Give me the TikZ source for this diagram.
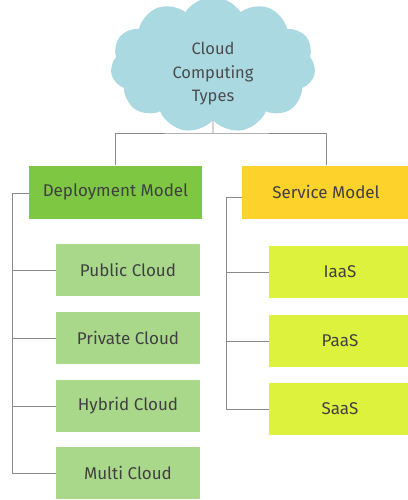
\documentclass[tikz,border=0pt]{standalone}
\usepackage{fontspec}
\setmainfont{Fira Sans}
\usetikzlibrary{shapes.symbols}
\definecolor{cloudblue}{HTML}{AAD9E2}
\definecolor{deplgreen}{HTML}{7DC742}
\definecolor{servgold}{HTML}{FDD22A}
\definecolor{lightgreen}{HTML}{A9D88B}
\definecolor{limegreen}{HTML}{DDF23C}
\definecolor{linegray}{HTML}{8A8A8A}
\begin{document}
\begin{tikzpicture}[x=1pt, y=-1pt, font=\fontsize{17}{20}\selectfont, line join=round,
	box/.style={rectangle, minimum height=52pt, text=black!75},
	link/.style={draw=linegray, line width=0.8pt}]
	\useasboundingbox (0,0) rectangle (407,500);
	\fill[white] (0,0) rectangle (407,500);
	% root
	\node[cloud, cloud puffs=11, cloud puff arc=115, aspect=1.7, fill=cloudblue, minimum width=205pt, minimum height=136pt, inner sep=0pt,
		label={[align=center, text=black!70, yshift=-9pt, font=\fontsize{16.5}{23.5}\selectfont]center:Cloud\\Computing\\Types}] (root) at (213,65) {};
	% models
	\node[box, fill=deplgreen, minimum width=173pt, minimum height=53pt] (deploy) at (115.5,192) {Deployment Model};
	\node[box, fill=servgold, minimum width=168pt, minimum height=53pt] (service) at (326,192) {Service Model};
	% deployment kinds
	\node[box, fill=lightgreen, minimum width=144pt] (public) at (128,270) {Public Cloud};
	\node[box, fill=lightgreen, minimum width=144pt] (private) at (128,338) {Private Cloud};
	\node[box, fill=lightgreen, minimum width=144pt] (hybrid) at (128,406) {Hybrid Cloud};
	\node[box, fill=lightgreen, minimum width=144pt] (multi) at (128,473) {Multi Cloud};
	% service kinds
	\node[box, fill=limegreen, minimum width=142pt] (iaas) at (340,272) {IaaS};
	\node[box, fill=limegreen, minimum width=142pt] (paas) at (340,341) {PaaS};
	\node[box, fill=limegreen, minimum width=142pt] (saas) at (340,409) {SaaS};
	
	\coordinate (rbus) at (213,133);
	\coordinate (dbus) at (12,193);
	\coordinate (sbus) at (226,197);
	\draw[link] (root.south) -- (rbus);
	\draw[link] (deploy.north) |- (rbus) -| (service.north);
	\draw[link] (deploy.west |- dbus) -- (dbus) |- (multi.west);
	\foreach \n in {public,private,hybrid}
		\draw[link] (\n.west) -- (dbus |- \n.west);
	\draw[link] (service.west |- sbus) -- (sbus) |- (saas.west);
	\foreach \n in {iaas,paas}
		\draw[link] (\n.west) -- (sbus |- \n.west);
\end{tikzpicture}
\end{document}
